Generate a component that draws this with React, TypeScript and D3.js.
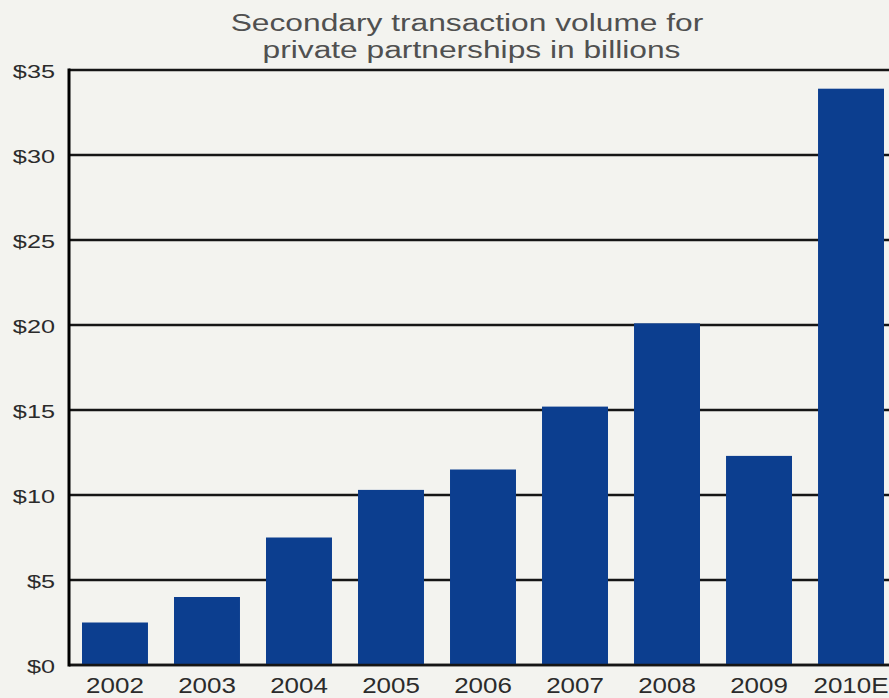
import React, { useEffect } from "react";
import * as d3 from "d3";

const categories = ["2002", "2003", "2004", "2005", "2006", "2007", "2008", "2009", "2010E"];
const volumes = [2.5, 4.0, 7.5, 10.3, 11.5, 15.2, 20.1, 12.3, 33.9];
const yTicks = [0, 5, 10, 15, 20, 25, 30, 35];
const titleLines = ["Secondary transaction volume for", "private partnerships in billions"];

const W = 889;
const H = 698;

export default function App() {
  useEffect(() => {
    document.body.style.margin = "0";
    document.body.style.background = "#f3f3ef";
  }, []);

  const x = d3
    .scaleBand<string>()
    .domain(categories)
    .range([69, 897])
    .paddingInner(0.283)
    .paddingOuter(0.1413);
  const y = d3.scaleLinear().domain([0, 35]).range([665, 70]);
  const fmt = (v: number) => `$${v}`;
  const font = "'Liberation Sans', Arial, Helvetica, sans-serif";

  return (
    <svg
      width={W}
      height={H}
      style={{ position: "absolute", left: 0, top: 0, display: "block" }}
      fontFamily={font}
    >
      <rect x={0} y={0} width={W} height={H} fill="#f3f3ef" />
      {/* title */}
      <g fill="#505050" fontSize={23}>
        <text transform={`translate(467,31) scale(1.38,1)`} textAnchor="middle">
          {titleLines[0]}
        </text>
        <text transform={`translate(471.5,57.5) scale(1.38,1)`} textAnchor="middle">
          {titleLines[1]}
        </text>
      </g>
      {/* gridlines */}
      <g stroke="#151515" strokeWidth={2.5}>
        {yTicks.map((t) => (
          <line key={t} x1={69} x2={W} y1={y(t)} y2={y(t)} />
        ))}
      </g>
      {/* bars */}
      <g fill="#0c3e8f">
        {categories.map((c, i) => (
          <rect
            key={c}
            x={x(c)!}
            width={x.bandwidth()}
            y={y(volumes[i])}
            height={y(0) - y(volumes[i])}
          />
        ))}
      </g>
      {/* baseline and left axis */}
      <line x1={69} x2={W} y1={y(0)} y2={y(0)} stroke="#151515" strokeWidth={2.5} />
      <line x1={69} x2={69} y1={y(35) - 1.5} y2={y(0) + 1.5} stroke="#000" strokeWidth={3} />
      {/* y labels */}
      <g fill="#2b2b2b" fontSize={19}>
        {yTicks.map((t) => (
          <text key={t} transform={`translate(55,${y(t) + 7.5}) scale(1.33,1)`} textAnchor="end">
            {fmt(t)}
          </text>
        ))}
      </g>
      {/* x labels */}
      <g fill="#2b2b2b" fontSize={22}>
        {categories.map((c) => (
          <text
            key={c}
            transform={`translate(${x(c)! + x.bandwidth() / 2},693) scale(1.18,1)`}
            textAnchor="middle"
          >
            {c}
          </text>
        ))}
      </g>
    </svg>
  );
}
